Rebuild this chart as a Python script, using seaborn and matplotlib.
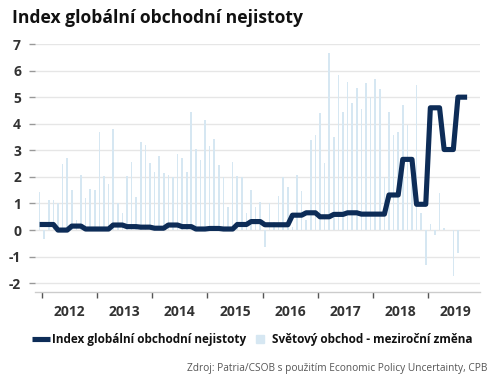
import numpy as np
import pandas as pd
import matplotlib
matplotlib.use("Agg")
import matplotlib.pyplot as plt
from matplotlib.lines import Line2D
import seaborn as sns

# ---- data -------------------------------------------------------------
# monthly, starting Dec 2011 (index 0)
trade_yoy = [1.44, -0.35, 1.13, 1.13, 1.0, 2.48, 2.7, 1.5, 0.37, 2.09, 1.19, 1.54,
             1.5, 3.7, 2.03, 1.73, 3.81, 1.03, 0.65, 2.03, 2.57, 1.23, 3.32, 3.2,
             2.51, 2.19, 2.78, 2.13, 2.09, 2.01, 2.86, 2.73, 2.18, 4.44, 3.06, 2.63,
             4.14, 3.16, 3.41, 2.45, 2.01, 0.88, 2.57, 2.03, 1.98, 0.65, 1.5, 0.85,
             1.07, -0.63, 1.0, 0.31, 1.28, 2.01, 1.63, 0.1, 2.09, 1.48, 0.37, 3.39,
             3.58, 4.42, 2.51, 6.65, 3.51, 5.83, 4.45, 5.58, 4.77, 5.33, 4.54, 5.52,
             4.99, 5.67, 5.3, 2.0, 4.45, 3.58, 3.7, 4.7, 3.95, 2.07, 5.46, 0.63,
             -1.32, 0.23, -0.19, 1.38, 0.06, 0.0, -1.73, -0.88]

uncertainty = [0.21,
               0.21, 0.21, 0.21, 0.0, 0.0, 0.0, 0.15, 0.15, 0.15, 0.04, 0.04, 0.04,
               0.04, 0.04, 0.04, 0.19, 0.19, 0.19, 0.13, 0.13, 0.13, 0.11, 0.11, 0.11,
               0.07, 0.07, 0.07, 0.19, 0.19, 0.19, 0.13, 0.13, 0.13, 0.04, 0.04, 0.04,
               0.06, 0.06, 0.06, 0.04, 0.04, 0.04, 0.21, 0.21, 0.21, 0.32, 0.32, 0.32,
               0.2, 0.2, 0.2, 0.2, 0.2, 0.2, 0.56, 0.56, 0.56, 0.65, 0.65, 0.65,
               0.5, 0.5, 0.5, 0.59, 0.59, 0.59, 0.65, 0.65, 0.65, 0.6, 0.6, 0.6,
               0.6, 0.6, 0.6, 1.32, 1.32, 1.32, 2.66, 2.66, 2.66, 0.97, 0.97, 0.97,
               4.6, 4.6, 4.6, 3.03, 3.03, 3.03, 5.0, 5.0, 5.0]

year_labels = ["2012", "2013", "2014", "2015", "2016", "2017", "2018", "2019"]
y_ticks = [-2, -1, 0, 1, 2, 3, 4, 5, 6, 7]

title = "Index globální obchodní nejistoty"
line_name = "Index globální obchodní nejistoty"
bar_name = "Světový obchod - meziroční změna"
source = "Zdroj: Patria/CSOB s použitím Economic Policy Uncertainty, CPB"

# ---- styling ----------------------------------------------------------
LINE_C = "#0d2c57"
BAR_C = "#d6e7f2"
TXT_C = "#333333"

sns.set_theme(style="white")
plt.rcParams["font.family"] = ["Open Sans", "DejaVu Sans"]
plt.rcParams["axes.unicode_minus"] = False

fig = plt.figure(figsize=(5.0, 3.86), dpi=100)
ax = fig.add_axes([0.07, 0.2435, 0.89, 0.6425])

bar_df = pd.DataFrame({"m": np.arange(len(trade_yoy)), "v": trade_yoy})
line_df = pd.DataFrame({"m": np.arange(len(uncertainty)), "v": uncertainty})

ax.yaxis.grid(True, color="#e6e6e6", linewidth=1.0, zorder=0)
ax.set_axisbelow(True)

sns.barplot(data=bar_df, x="m", y="v", native_scale=True, width=0.35,
            color=BAR_C, saturation=1, errorbar=None, ax=ax, zorder=2,
            linewidth=0)
sns.lineplot(data=line_df, x="m", y="v", color=LINE_C, linewidth=3.7,
             ax=ax, zorder=3, solid_joinstyle="round", solid_capstyle="butt")

ax.set_xlim(-1.0, 95.8)
ax.set_ylim(-2.33, 7.0)
ax.set_yticks(y_ticks)
ax.set_yticklabels([str(t) for t in y_ticks])

major = [i * 12 + 0.5 for i in range(len(year_labels))]
minor = [i * 12 + 6.5 for i in range(len(year_labels))]
ax.set_xticks(major)
ax.set_xticklabels([""] * len(major))
ax.set_xticks(minor, minor=True)
ax.set_xticklabels(year_labels, minor=True)
ax.tick_params(axis="x", which="minor", length=0, pad=9,
               labelsize=10, labelcolor=TXT_C)
ax.tick_params(axis="x", which="major", length=4.5, width=1, color="#555555",
               direction="out", bottom=True)
ax.tick_params(axis="y", length=4, width=1, color="#999999", direction="out",
               left=True, pad=6, labelsize=10, labelcolor=TXT_C)
for lab in ax.get_xticklabels(minor=True) + ax.get_yticklabels():
    lab.set_fontweight("bold")

ax.set_xlabel("")
ax.set_ylabel("")
for s in ["top", "right", "left"]:
    ax.spines[s].set_visible(False)
ax.spines["bottom"].set_color("#cccccc")
ax.spines["bottom"].set_linewidth(1)

handles = [Line2D([], [], color=LINE_C, linewidth=3.7, solid_capstyle="butt"),
           Line2D([], [], marker="s", linestyle="none", markersize=6.0,
                  markerfacecolor=BAR_C, markeredgecolor=BAR_C)]
leg = fig.legend(handles, [line_name, bar_name], loc="center",
                 bbox_to_anchor=(0.504, 1 - 340 / 386), ncol=2, frameon=False,
                 handlelength=1.55, handletextpad=0.2, columnspacing=0.4,
                 prop={"weight": "bold", "size": 8.5})
for t in leg.get_texts():
    t.set_color("#111111")

fig.text(0.024, 1 - 18 / 386, title, fontsize=12.6, fontweight="bold",
         color="#111111", va="center", ha="left")
fig.text(0.974, 1 - 368 / 386, source, fontsize=7.3, color="#555555",
         va="center", ha="right")

fig.savefig("out.png", dpi=100)
